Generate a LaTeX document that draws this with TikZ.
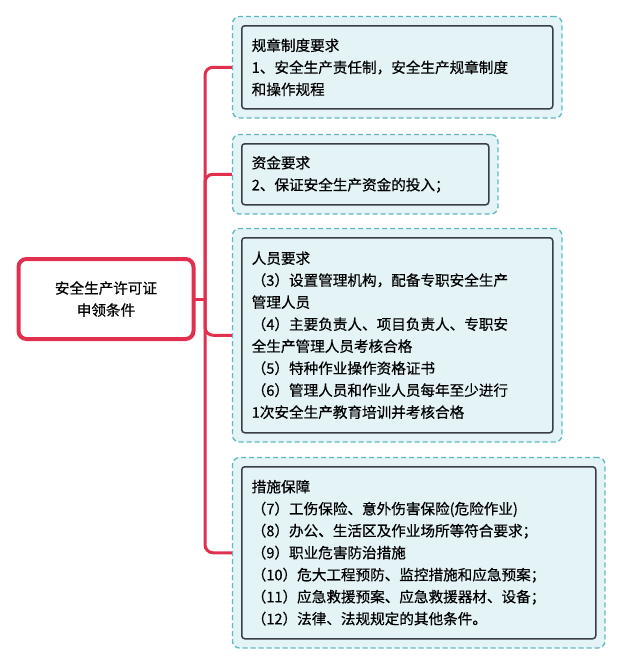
\documentclass[tikz,border=0pt]{standalone}
\usepackage{fontspec}
\setmainfont[FakeBold=0.5]{Noto Sans CJK SC}
\usetikzlibrary{fit}
\definecolor{redc}{HTML}{E0304E}
\definecolor{tealc}{HTML}{5EB8C0}
\definecolor{fillc}{HTML}{E4F3F6}
\definecolor{darkc}{HTML}{3A3F45}
\tikzset{
 x=1pt,y=-1pt,
 inner/.style={draw=darkc,line width=1.5pt,rounded corners=3pt,anchor=north west,align=left,inner sep=0pt,inner xsep=10pt,font=\fontsize{14.6}{22}\selectfont,text=black},
 outer/.style={draw=tealc,fill=fillc,dash pattern=on 5pt off 3pt,line width=1.3pt,rounded corners=7pt,inner sep=8.5pt},
 conn/.style={draw=redc,line width=3pt,rounded corners=8pt}
}
\begin{document}
\begin{tikzpicture}
\useasboundingbox (0,0) rectangle (621,664);
\node[draw=redc,line width=4pt,rounded corners=8pt,minimum width=175,minimum height=80,align=center,font=\fontsize{14.6}{22}\selectfont] (root) at (106,299) {安全生产许可证\\申领条件};
\path (241,25) node[inner,minimum width=311,minimum height=83,text width=291] (i1) {};
\path (241,143) node[inner,minimum width=247,minimum height=61,text width=227] (i2) {};
\path (241,237) node[inner,minimum width=311,minimum height=195,text width=291] (i3) {};
\path (241,466) node[inner,minimum width=354,minimum height=172,text width=334] (i4) {};
\node[outer,fit=(i1)] (o1) {};
\node[outer,fit=(i2)] (o2) {};
\node[outer,fit=(i3)] (o3) {};
\node[outer,fit=(i4)] (o4) {};
\node[inner,minimum width=311,minimum height=83,text width=291,fill=fillc] (t1) at (241,25) {规章制度要求\\1、安全生产责任制，安全生产规章制度\\和操作规程};
\node[inner,minimum width=247,minimum height=61,text width=227,fill=fillc] (t2) at (241,143) {资金要求\\2、保证安全生产资金的投入；};
\node[inner,minimum width=311,minimum height=195,text width=291,fill=fillc] (t3) at (241,237) {人员要求\\（3）设置管理机构，配备专职安全生产\\管理人员\\（4）主要负责人、项目负责人、专职安\\全生产管理人员考核合格\\（5）特种作业操作资格证书\\（6）管理人员和作业人员每年至少进行\\1次安全生产教育培训并考核合格};
\node[inner,minimum width=354,minimum height=172,text width=334,fill=fillc] (t4) at (241,466) {措施保障\\（7）工伤保险、意外伤害保险(危险作业)\\（8）办公、生活区及作业场所等符合要求；\\（9）职业危害防治措施\\（10）危大工程预防、监控措施和应急预案；\\（11）应急救援预案、应急救援器材、设备；\\（12）法律、法规规定的其他条件。};
\coordinate (t) at (205,299);
\draw[conn,line cap=round] (root.east) -- (t);
\draw[conn] (o1.west) -| (t);
\draw[conn] (o2.west) -| (t);
\draw[conn] (o3.west) -| (t);
\draw[conn] (o4.west) -| (t);
\end{tikzpicture}
\end{document}
